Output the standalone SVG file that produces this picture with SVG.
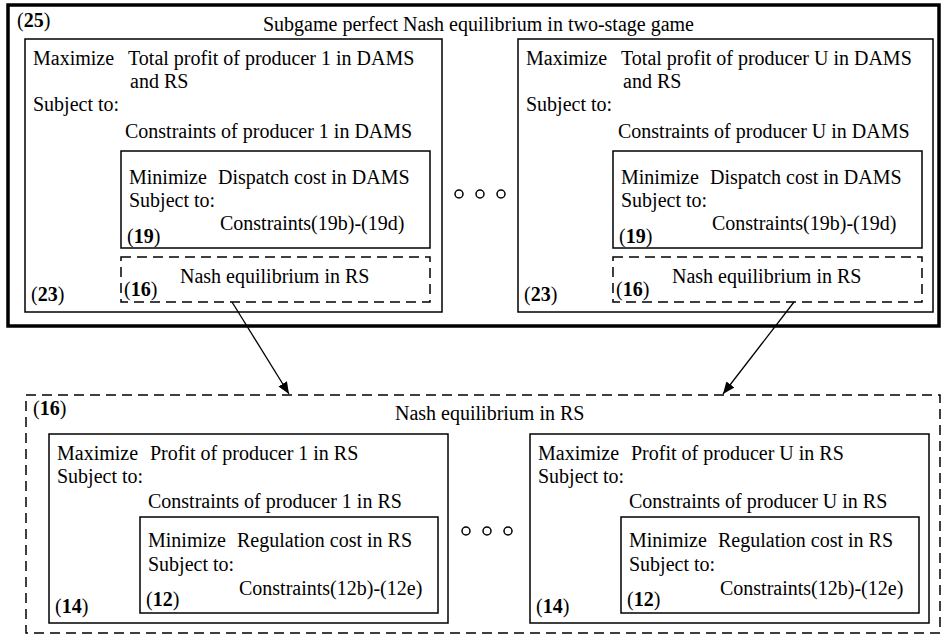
<svg xmlns="http://www.w3.org/2000/svg" width="943" height="635" viewBox="0 0 943 635">
<style>
text{font-family:"Liberation Serif","Times New Roman",serif;font-size:20px;fill:#000}
.b{font-weight:bold}
.box{fill:none;stroke:#000;stroke-width:1.5}
.thick{fill:none;stroke:#000;stroke-width:3.5}
.dash{fill:none;stroke:#000;stroke-width:1.5;stroke-dasharray:10 6}
.dot{fill:none;stroke:#000;stroke-width:1.5}
.conn{stroke:#000;stroke-width:1.3;fill:none}
</style>
<defs>
<marker id="ah" viewBox="0 0 12 10" refX="12" refY="5" markerWidth="12" markerHeight="10" markerUnits="userSpaceOnUse" orient="auto">
<path d="M0,0 L12,5 L0,10 z" fill="#000"/>
</marker>
</defs>

<g id="spne">
<rect class="thick" x="8" y="5" width="931" height="321"/>
<text x="17" y="27">(<tspan class="b">25</tspan>)</text>
<text x="263" y="31">Subgame perfect Nash equilibrium in two-stage game</text>
</g>

<g id="p1-upper">
<rect class="box" x="25" y="39" width="417" height="273"/>
<text x="33" y="65">Maximize</text>
<text x="128" y="65">Total profit of producer 1 in DAMS</text>
<text x="130" y="88">and RS</text>
<text x="33" y="111">Subject to:</text>
<text x="125" y="138">Constraints of producer 1 in DAMS</text>
<text x="31" y="301">(<tspan class="b">23</tspan>)</text>
</g>
<g id="p1-dispatch">
<rect class="box" x="121" y="151" width="309" height="97"/>
<text x="129" y="184">Minimize</text>
<text x="218" y="184">Dispatch cost in DAMS</text>
<text x="129" y="207">Subject to:</text>
<text x="220" y="230">Constraints(19b)-(19d)</text>
<text x="127" y="243">(<tspan class="b">19</tspan>)</text>
</g>
<g id="p1-nash">
<rect class="dash" x="121" y="257" width="309" height="45"/>
<text x="180" y="283">Nash equilibrium in RS</text>
<text x="124" y="296">(<tspan class="b">16</tspan>)</text>
</g>

<g id="dots-upper">
<circle class="dot" cx="459" cy="194" r="4"/>
<circle class="dot" cx="480" cy="194" r="4"/>
<circle class="dot" cx="501" cy="194" r="4"/>
</g>

<g id="pU-upper">
<rect class="box" x="518" y="39" width="415" height="273"/>
<text x="526" y="65">Maximize</text>
<text x="621" y="65">Total profit of producer U in DAMS</text>
<text x="623" y="88">and RS</text>
<text x="526" y="111">Subject to:</text>
<text x="618" y="138">Constraints of producer U in DAMS</text>
<text x="524" y="301">(<tspan class="b">23</tspan>)</text>
</g>
<g id="pU-dispatch">
<rect class="box" x="613" y="151" width="309" height="97"/>
<text x="621" y="184">Minimize</text>
<text x="710" y="184">Dispatch cost in DAMS</text>
<text x="621" y="207">Subject to:</text>
<text x="712" y="230">Constraints(19b)-(19d)</text>
<text x="619" y="243">(<tspan class="b">19</tspan>)</text>
</g>
<g id="pU-nash">
<rect class="dash" x="613" y="257" width="309" height="45"/>
<text x="672" y="283">Nash equilibrium in RS</text>
<text x="616" y="296">(<tspan class="b">16</tspan>)</text>
</g>

<g id="rs-nash">
<rect class="dash" x="26" y="395" width="914" height="238"/>
<text x="33" y="415">(<tspan class="b">16</tspan>)</text>
<text x="395" y="420">Nash equilibrium in RS</text>
</g>

<g id="p1-lower">
<rect class="box" x="49" y="434" width="399" height="189"/>
<text x="57" y="460">Maximize</text>
<text x="150" y="460">Profit of producer 1 in RS</text>
<text x="57" y="483">Subject to:</text>
<text x="148" y="508">Constraints of producer 1 in RS</text>
<text x="55" y="613">(<tspan class="b">14</tspan>)</text>
</g>
<g id="p1-reg">
<rect class="box" x="140" y="517" width="298" height="96"/>
<text x="148" y="547">Minimize</text>
<text x="237" y="547">Regulation cost in RS</text>
<text x="148" y="571">Subject to:</text>
<text x="239" y="595">Constraints(12b)-(12e)</text>
<text x="146" y="606">(<tspan class="b">12</tspan>)</text>
</g>

<g id="dots-lower">
<circle class="dot" cx="466" cy="531" r="4"/>
<circle class="dot" cx="487" cy="531" r="4"/>
<circle class="dot" cx="508" cy="531" r="4"/>
</g>

<g id="pU-lower">
<rect class="box" x="530" y="434" width="399" height="189"/>
<text x="538" y="460">Maximize</text>
<text x="631" y="460">Profit of producer U in RS</text>
<text x="538" y="483">Subject to:</text>
<text x="629" y="508">Constraints of producer U in RS</text>
<text x="536" y="613">(<tspan class="b">14</tspan>)</text>
</g>
<g id="pU-reg">
<rect class="box" x="621" y="517" width="298" height="96"/>
<text x="629" y="547">Minimize</text>
<text x="718" y="547">Regulation cost in RS</text>
<text x="629" y="571">Subject to:</text>
<text x="720" y="595">Constraints(12b)-(12e)</text>
<text x="627" y="606">(<tspan class="b">12</tspan>)</text>
</g>

<g id="connectors">
<line class="conn" x1="232" y1="302" x2="289" y2="394" marker-end="url(#ah)"/>
<line class="conn" x1="794" y1="302" x2="723" y2="394" marker-end="url(#ah)"/>
</g>
</svg>
